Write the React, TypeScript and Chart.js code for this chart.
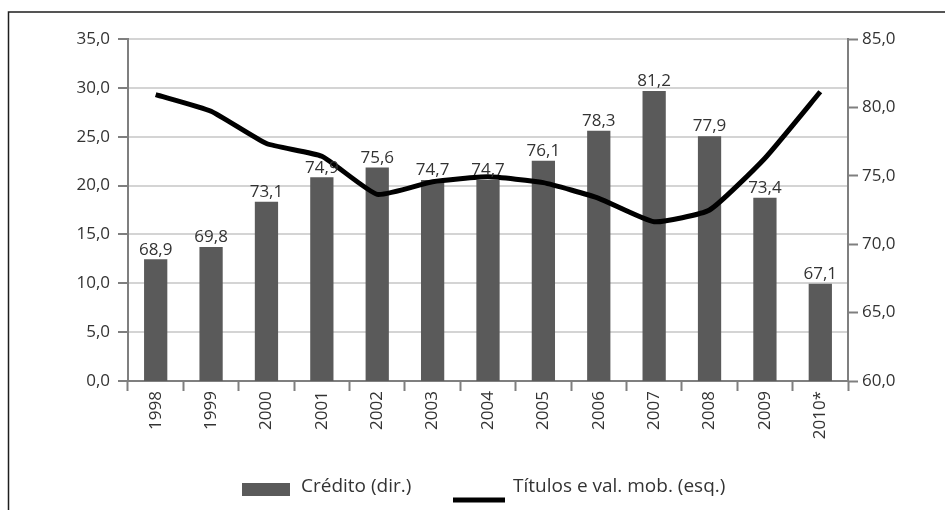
import React, { useEffect, useRef } from "react";
import { Chart, registerables } from "chart.js";

Chart.register(...registerables);

const years = ["1998", "1999", "2000", "2001", "2002", "2003", "2004", "2005", "2006", "2007", "2008", "2009", "2010*"];
const creditoDir = [68.9, 69.8, 73.1, 74.9, 75.6, 74.7, 74.7, 76.1, 78.3, 81.2, 77.9, 73.4, 67.1];
const titulosEsq = [29.3, 27.6, 24.3, 23.0, 19.1, 20.4, 20.9, 20.3, 18.7, 16.3, 17.5, 22.8, 29.6];
const legendLabels = ["Crédito (dir.)", "Títulos e val. mob. (esq.)"];

const fmt = (v: number) => Number(v).toFixed(1).replace(".", ",");

const TICK_FONT = { family: "'Open Sans', sans-serif", size: 17 };
const TEXT = "#333333";
const AXIS = "#7f7f7f";
const GRID = "#d4d4d4";
const BAR = "#5a5a5a";

const framePlugin = {
  id: "frame",
  beforeDraw(chart: any) {
    const ctx = chart.ctx;
    ctx.save();
    ctx.fillStyle = "#ffffff";
    ctx.fillRect(0, 0, chart.width, chart.height);
    ctx.strokeStyle = "#1e1e1e";
    ctx.lineWidth = 1.5;
    ctx.beginPath();
    ctx.moveTo(945, 12);
    ctx.lineTo(8.5, 12);
    ctx.lineTo(8.5, 510);
    ctx.stroke();
    ctx.restore();
  },
};

const labelsPlugin = {
  id: "barLabels",
  afterDatasetsDraw(chart: any) {
    const ctx = chart.ctx;
    const meta = chart.getDatasetMeta(1);
    const data = chart.data.datasets[1].data as number[];
    ctx.save();
    ctx.font = `${TICK_FONT.size}px ${TICK_FONT.family}`;
    ctx.fillStyle = TEXT;
    ctx.textAlign = "center";
    ctx.textBaseline = "bottom";
    meta.data.forEach((el: any, i: number) => {
      ctx.fillText(fmt(data[i]), el.x, el.y - 1);
    });
    ctx.restore();
  },
};

const legendPlugin = {
  id: "customLegend",
  afterDraw(chart: any) {
    const ctx = chart.ctx;
    ctx.save();
    ctx.fillStyle = BAR;
    ctx.fillRect(242, 483, 48, 13);
    ctx.strokeStyle = "#000000";
    ctx.lineWidth = 5;
    ctx.beginPath();
    ctx.moveTo(453, 500);
    ctx.lineTo(505, 500);
    ctx.stroke();
    ctx.font = "19px 'Open Sans', sans-serif";
    ctx.fillStyle = TEXT;
    ctx.textBaseline = "alphabetic";
    ctx.textAlign = "left";
    ctx.fillText(legendLabels[0], 301, 492);
    ctx.fillText(legendLabels[1], 513, 492);
    ctx.restore();
  },
};

export default function App() {
  const ref = useRef<HTMLCanvasElement | null>(null);

  useEffect(() => {
    if (!ref.current) return;
    const chart = new Chart(ref.current, {
      type: "bar",
      data: {
        labels: years,
        datasets: [
          {
            type: "line",
            label: legendLabels[1],
            data: titulosEsq,
            yAxisID: "yL",
            borderColor: "#000000",
            borderWidth: 5,
            pointRadius: 0,
            tension: 0.15,
            fill: false,
            order: 0,
          } as any,
          {
            type: "bar",
            label: legendLabels[0],
            data: creditoDir,
            yAxisID: "yR",
            backgroundColor: BAR,
            categoryPercentage: 1,
            barPercentage: 0.42,
            order: 1,
          },
        ],
      },
      options: {
        responsive: false,
        animation: false,
        layout: { padding: { top: 39, left: 0, right: 0, bottom: 0 } },
        plugins: { legend: { display: false }, tooltip: { enabled: false } },
        scales: {
          x: {
            offset: true,
            grid: {
              offset: true,
              drawOnChartArea: false,
              drawTicks: true,
              tickLength: 10,
              tickColor: AXIS,
              tickWidth: 2,
              color: AXIS,
            },
            border: { color: AXIS, width: 2 },
            ticks: { minRotation: 90, maxRotation: 90, padding: 0, autoSkip: false, font: TICK_FONT, color: TEXT },
            afterFit: (s: any) => {
              s.height = 129;
            },
          },
          yL: {
            type: "linear",
            position: "left",
            min: 0,
            max: 35,
            ticks: { stepSize: 5, padding: 8, font: TICK_FONT, color: TEXT, callback: (v: any) => fmt(v) },
            grid: { color: GRID, lineWidth: 2, tickLength: 10, tickColor: AXIS, tickWidth: 2 },
            border: { color: AXIS, width: 2 },
            afterFit: (s: any) => {
              s.width = 128;
            },
          },
          yR: {
            type: "linear",
            position: "right",
            min: 60,
            max: 85,
            ticks: { stepSize: 5, padding: 4, font: TICK_FONT, color: TEXT, callback: (v: any) => fmt(v) },
            grid: { drawOnChartArea: false, tickLength: 10, tickColor: AXIS, tickWidth: 2 },
            border: { color: AXIS, width: 2 },
            afterFit: (s: any) => {
              s.width = 97;
            },
          },
        },
      },
      plugins: [framePlugin, labelsPlugin, legendPlugin],
    });
    return () => chart.destroy();
  }, []);

  return (
    <div style={{ position: "absolute", left: 0, top: 0, width: 945, height: 510, background: "#fff" }}>
      <canvas ref={ref} width={945} height={510} style={{ display: "block" }} />
    </div>
  );
}
